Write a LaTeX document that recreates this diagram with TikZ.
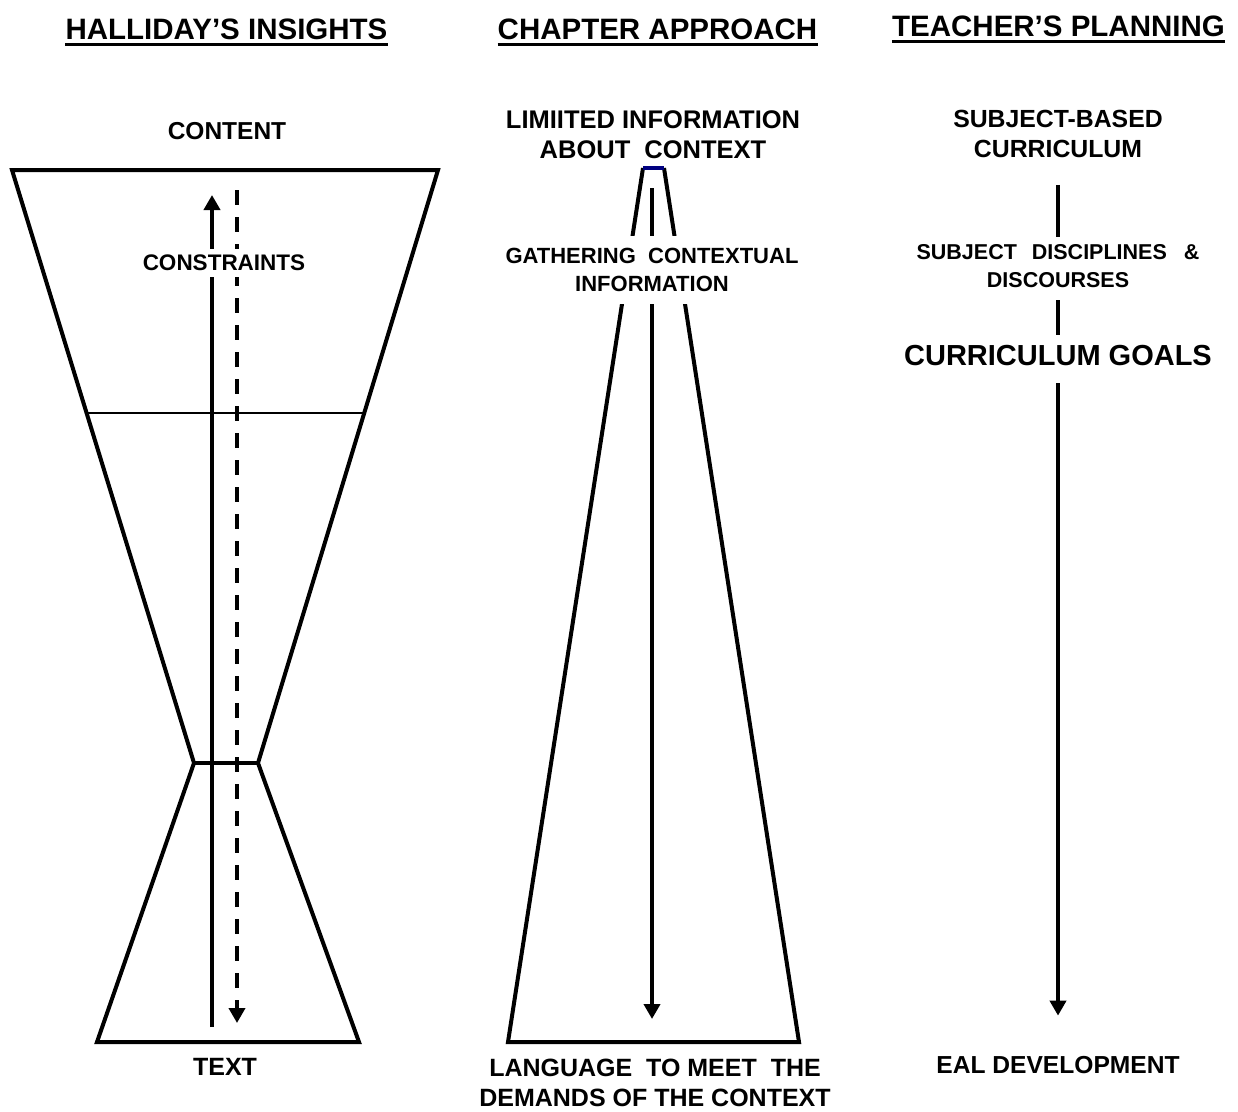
\documentclass[tikz,border=0pt]{standalone}
\usepackage{fontspec}
\setmainfont{Liberation Sans}
\usetikzlibrary{arrows.meta,calc}
\begin{document}
\begin{tikzpicture}[x=1pt,y=-1pt,
  head/.style={inner sep=0pt, anchor=base, font=\bfseries\fontsize{29.5}{34}\selectfont},
  lbl/.style={inner sep=0pt, align=center, font=\bfseries\fontsize{#1}{30}\selectfont},
  lbl/.default=25,
  outline/.style={line width=4pt, line join=miter},
  thin/.style={line width=1.5pt},
  tip/.style={-{Triangle[length=15pt,width=16pt]}},
  arr/.style={line width=4pt, tip},
  dasharr/.style={line width=4pt, tip, dash pattern=on 15pt off 12pt},
  conn/.style={line width=4pt},
]
\useasboundingbox (0,0) rectangle (1238,1111);

% ---------- headings ----------
\node[head] (h1) at (226.5,39) {HALLIDAY’S INSIGHTS};
\node[head] (h2) at (657.5,39) {CHAPTER APPROACH};
\node[head] (h3) at (1058.5,36) {TEACHER’S PLANNING};
\foreach \h in {h1,h2,h3}
  \draw[line width=3.5pt] ([yshift=-5.5pt]\h.base west) -- ([yshift=-5.5pt]\h.base east);

% ---------- left: Halliday ----------
\coordinate (tl) at (12,170);
\coordinate (tr) at (438,170);
\coordinate (wl) at (194,763);
\coordinate (wr) at (258,763);
\coordinate (bl) at (97,1042);
\coordinate (br) at (359,1042);
\draw[outline] (tl) -- (tr) -- (wr) -- (br) -- (bl) -- (wl) -- cycle;
\draw[outline] (wl) -- (wr);
\draw[thin] ($(tl)!0.4098!(wl)$) -- ($(tr)!0.4098!(wr)$);

\coordinate (su0) at (212,1027);
\coordinate (su1) at (212,195);
\coordinate (sd0) at (237,190);
\coordinate (sd1) at (237,1023);
\draw[arr] (su0) -- (su1);
\draw[dasharr] (sd0) -- (sd1);

\node[lbl=24.5, anchor=base] (content) at (227,139) {CONTENT};
\node[lbl=22.5, anchor=base, fill=white, inner xsep=4pt, inner ysep=6pt] (constr) at (224,270.5) {CONSTRAINTS};
\node[lbl=25, anchor=base] (text) at (225,1075) {TEXT};

% ---------- middle: chapter approach ----------
\coordinate (mtl) at (643,168);
\coordinate (mtr) at (664,168);
\coordinate (mbl) at (508,1042);
\coordinate (mbr) at (799,1042);
\draw[outline] (mtl) -- (mbl) -- (mbr) -- (mtr);
\draw[line width=4pt, color={rgb,255:red,0;green,0;blue,128}] (mtl) -- (mtr);
\coordinate (ma0) at (652,188);
\coordinate (ma1) at (652,1019);
\draw[arr] (ma0) -- (ma1);

\node[lbl=25.5] (limited) at (653,134.5) {LIMIITED INFORMATION\\ABOUT\ \ CONTEXT};
\node[lbl=22, font=\bfseries\fontsize{22}{28}\selectfont, fill=white, inner xsep=3pt, inner ysep=12pt] (gather) at (652,270)
  {GATHERING\ \ CONTEXTUAL\\INFORMATION};
\node[lbl=25] (language) at (655,1083) {LANGUAGE\ \ TO MEET\ \ THE\\DEMANDS OF THE CONTEXT};

% ---------- right: teacher's planning ----------
\node[lbl=24.8] (sbc) at (1058,134) {SUBJECT-BASED\\CURRICULUM};
\node[lbl=21.5, font=\bfseries\fontsize{21.5}{28}\selectfont] (sdd) at (1058,266.5)
  {SUBJECT\hspace{15pt}DISCIPLINES\hspace{17pt}\&\\DISCOURSES};
\node[lbl=29, anchor=base] (cg) at (1058,365) {CURRICULUM GOALS};
\node[lbl=24.6, anchor=base] (eal) at (1058,1073) {EAL DEVELOPMENT};

\draw[conn, shorten <=27pt, shorten >=8pt] (sbc) -- (sdd);
\draw[conn, shorten <=12pt, shorten >=10pt] (sdd) -- (cg);
\draw[arr, shorten <=18pt, shorten >=40pt] (cg) -- (eal);
\end{tikzpicture}
\end{document}
